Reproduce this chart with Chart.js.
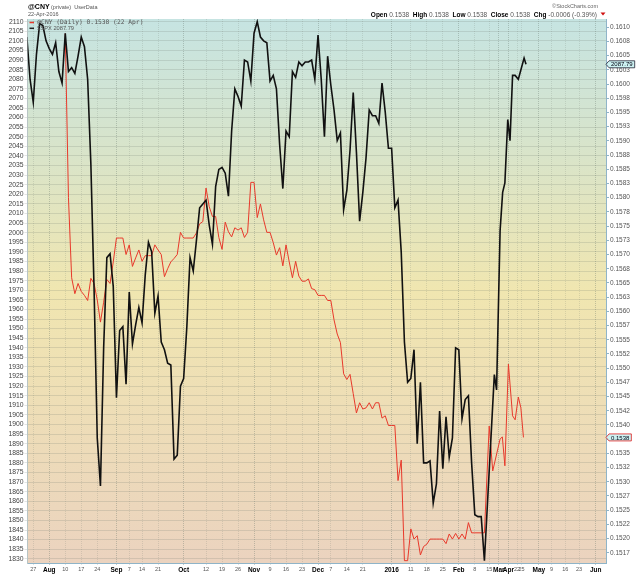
<!DOCTYPE html>
<html>
<head>
<meta charset="utf-8">
<script src="https://cdn.jsdelivr.net/npm/chart.js@4.4.1/dist/chart.umd.min.js"></script>
<style>
  html, body { margin: 0; padding: 0; background: #fff; overflow: hidden; }
  #wrap { position: relative; width: 640px; height: 576px; }
</style>
</head>
<body>
<div id="wrap"><canvas id="myChart"></canvas></div>
<script>
// $SPX closes, one per data slot starting at slot -1 (left edge) up to slot 142 (11 Feb)
var spxDaily = [
  2102, 2080, 2068, 2093, 2109, 2108, 2100, 2096, 2093, 2099,
  2084, 2078, 2104, 2084, 2086, 2083, 2092, 2102, 2097, 2080,
  2036, 1971, 1893, 1868, 1940, 1987, 1989, 1972, 1914, 1949,
  1951, 1921, 1969, 1942, 1952, 1961, 1953, 1978, 1995, 1990,
  1958, 1967, 1943, 1939, 1932, 1931, 1882, 1884, 1920, 1924,
  1951, 1987, 1980, 1996, 2013, 2015, 2017, 2004, 1994, 2024,
  2033, 2034, 2031, 2019, 2053, 2075, 2071, 2066, 2090, 2089,
  2079, 2104, 2110, 2102, 2100, 2099, 2079, 2082, 2075, 2046,
  2023, 2053, 2050, 2084, 2081, 2089, 2087, 2089, 2089, 2090,
  2080, 2103, 2080, 2050, 2092, 2077, 2064, 2048, 2052, 2012,
  2022, 2043, 2073, 2042, 2006, 2021, 2039, 2064, 2061, 2061,
  2057, 2078, 2063, 2044, 2044, 2013, 2017, 1990, 1943, 1922,
  1924, 1939, 1890, 1922, 1880, 1880, 1881, 1859, 1869, 1907,
  1877, 1904, 1883, 1893, 1940, 1939, 1903, 1913, 1915, 1880,
  1853, 1852, 1852, 1829
];
var spxFirstSlot = -1;
// squeezed part after mid Feb (slots)
var spxLateSlot = [145.1, 145.8, 146.9, 147.7, 148.4, 149.3, 150, 150.8, 151.6, 152.6, 154.4, 155];
var spxLate = [1926, 1918, 2001, 2021, 2026, 2059, 2048, 2082, 2082, 2080, 2091, 2087.79];

// @CNY, one per slot from slot 11 (10 Aug) to slot 142
var cnyDaily = [
  .16089, .15800, .15659, .15631, .15649, .15635, .15628, .15619, .15658, .15649,
  .15620, .15581, .15616, .15656, .15649, .15687, .15729, .15729, .15729, .15700,
  .15717, .15679, .15694, .15708, .15688, .15698, .15698, .15698, .15717, .15708,
  .15700, .15661, .15675, .15687, .15693, .15700, .15739, .15729, .15729, .15729,
  .15729, .15738, .15754, .15758, .15817, .15784, .15767, .15767, .15730, .15709,
  .15757, .15740, .15731, .15747, .15743, .15747, .15730, .15739, .15827, .15827,
  .15765, .15789, .15761, .15739, .15739, .15721, .15699, .15712, .15680, .15717,
  .15687, .15659, .15688, .15662, .15653, .15653, .15657, .15640, .15638, .15628,
  .15628, .15628, .15619, .15619, .15585, .15560, .15545, .15490, .15480, .15489,
  .15455, .15421, .15439, .15428, .15430, .15439, .15428, .15439, .15439, .15412,
  .15416, .15399, .15399, .15399, .15302, .15338, .15161, .15161, .15217, .15199,
  .15205, .15171, .15186, .15190, .15199, .15199, .15199, .15199, .15199, .15191,
  .15208, .15199, .15209, .15199, .15208, .15199, .15228, .15210, .15210, .15210,
  .15210, .15210
];
var cnyFirstSlot = 11;
var cnyLateSlot = [143.5, 144.6, 146.9, 147.6, 148.4, 149.5, 150.8, 151.6, 152.6, 153.4, 154.2];
var cnyLate = [.15398, .15319, .15375, .15379, .15328, .15507, .15416, .15409, .15449, .15430, .15378];

// x axis labels
var xTickPos = [1, 6, 11, 16, 21, 27, 31, 35, 40, 48, 55, 60, 65, 70, 75, 80, 85, 90, 94, 99, 104,
                113, 119, 124, 129, 134, 139, 143.5, 146.5, 149.5, 152.2, 153.6, 159, 163, 167.3, 171.6, 176.8];
var xTickText = ['27', 'Aug', '10', '17', '24', 'Sep', '7', '14', '21', 'Oct', '12', '19', '26', 'Nov', '9', '16', '23',
                 'Dec', '7', '14', '21', '2016', '11', '18', '25', 'Feb', '8', '15', 'Mar', 'Apr', '22', '25',
                 'May', '9', '16', '23', 'Jun'];
var monthNames = ['Aug', 'Sep', 'Oct', 'Nov', 'Dec', '2016', 'Feb', 'Mar', 'Apr', 'May', 'Jun'];

// y axis ticks
var spxTickLow = 1830, spxTickHigh = 2110, spxTickStep = 5;
var cnyTickLow = 0.15175, cnyTickHigh = 0.1610, cnyTickStep = 0.00025;

var spxPoints = spxDaily.map(function (v, i) { return { x: spxFirstSlot + i, y: v }; });
spxLate.forEach(function (v, i) { spxPoints.push({ x: spxLateSlot[i], y: v }); });
var cnyPoints = cnyDaily.map(function (v, i) { return { x: cnyFirstSlot + i, y: v }; });
cnyLate.forEach(function (v, i) { cnyPoints.push({ x: cnyLateSlot[i], y: v }); });

var spxTicks = [];
for (var t = spxTickLow; t <= spxTickHigh; t += spxTickStep) spxTicks.push(t);
var cnyTicks = [];
for (var k = 0; cnyTickLow + k * cnyTickStep <= cnyTickHigh + 1e-9; k++) cnyTicks.push(+(cnyTickLow + k * cnyTickStep).toFixed(5));

function isMonth(i) { return monthNames.indexOf(xTickText[i]) >= 0; }

var bgPlugin = {
  id: 'bg',
  beforeDraw: function (chart) {
    var c = chart.ctx, a = chart.chartArea;
    c.save();
    c.fillStyle = '#fff';
    c.fillRect(0, 0, chart.width, chart.height);
    var g = c.createLinearGradient(0, a.top, 0, a.bottom);
    g.addColorStop(0, '#c6e4e2');
    g.addColorStop(0.25, '#d9e4c9');
    g.addColorStop(0.5, '#f0e6b0');
    g.addColorStop(1, '#ebd3bf');
    c.fillStyle = g;
    c.fillRect(a.left, a.top, a.right - a.left, a.bottom - a.top);
    c.restore();
  }
};

function valueBox(c, x, y, text, border) {
  c.font = '6px "Liberation Sans"';
  var w = c.measureText(text).width + 4, h = 7;
  c.beginPath();
  c.moveTo(x, y);
  c.lineTo(x + 3, y - h / 2);
  c.lineTo(x + 3 + w, y - h / 2);
  c.lineTo(x + 3 + w, y + h / 2);
  c.lineTo(x + 3, y + h / 2);
  c.closePath();
  c.fillStyle = '#cdf2f2';
  c.fill();
  c.strokeStyle = border;
  c.lineWidth = 0.8;
  c.stroke();
  c.fillStyle = '#001';
  c.textBaseline = 'middle';
  c.textAlign = 'left';
  c.fillText(text, x + 5, y + 0.5);
}

var textPlugin = {
  id: 'texts',
  afterDraw: function (chart) {
    var c = chart.ctx, a = chart.chartArea;
    c.save();
    c.textBaseline = 'alphabetic';
    // header, left
    c.fillStyle = '#000';
    c.font = 'bold 7px "Liberation Sans"';
    c.fillText('@CNY', 28, 8.5);
    c.fillStyle = '#555';
    c.font = '5.5px "Liberation Sans"';
    c.fillText('(private)  UserData', 51, 8.5);
    c.fillText('22-Apr-2016', 28, 16.3);
    // header, right
    c.textAlign = 'right';
    c.fillStyle = '#666';
    c.font = '5.5px "Liberation Sans"';
    c.fillText('\u00a9StockCharts.com', 598, 8);
    var parts = [['Open ', true], ['0.1538  ', false], ['High ', true], ['0.1538  ', false],
                 ['Low ', true], ['0.1538  ', false], ['Close ', true], ['0.1538  ', false],
                 ['Chg ', true], ['-0.0006 (-0.39%)', false]];
    var total = 0;
    parts.forEach(function (p) {
      c.font = (p[1] ? 'bold ' : '') + '6.5px "Liberation Sans"';
      total += c.measureText(p[0]).width;
    });
    var x = 597 - total;
    c.textAlign = 'left';
    parts.forEach(function (p) {
      c.font = (p[1] ? 'bold ' : '') + '6.5px "Liberation Sans"';
      c.fillStyle = p[1] ? '#000' : '#555';
      c.fillText(p[0], x, 16.5);
      x += c.measureText(p[0]).width;
    });
    c.fillStyle = '#d01010';
    c.beginPath();
    c.moveTo(600.5, 12.5); c.lineTo(605.5, 12.5); c.lineTo(603, 15.5); c.closePath();
    c.fill();

    // legend inside the plot
    c.lineWidth = 1.5;
    c.strokeStyle = '#e8392b';
    c.beginPath(); c.moveTo(29.5, 22.5); c.lineTo(34, 22.5); c.stroke();
    c.strokeStyle = '#222';
    c.beginPath(); c.moveTo(29.5, 28.3); c.lineTo(34, 28.3); c.stroke();
    c.textBaseline = 'middle';
    c.fillStyle = '#555';
    c.font = '6.3px "DejaVu Sans Mono"';
    c.fillText('@CNY (Daily) 0.1538 (22 Apr)', 37.3, 22.8);
    c.font = '5.7px "Liberation Sans"';
    c.fillText('$SPX 2087.79', 37.3, 28.6);

    // last value boxes on the right axis
    var yL = chart.scales.yL, yR = chart.scales.yR;
    valueBox(c, a.right, yL.getPixelForValue(spxLate[spxLate.length - 1]), '2087.79', '#223');
    valueBox(c, a.right, yR.getPixelForValue(cnyLate[cnyLate.length - 1]), '0.1538', '#e02020');
    c.restore();
  }
};

var ctx = document.getElementById('myChart');

var myLineChart = new Chart(ctx, {
  type: 'line',
  data: {
    datasets: [
      {
        label: '$SPX',
        data: spxPoints,
        yAxisID: 'yL',
        borderColor: '#111',
        borderWidth: 1.6,
        pointRadius: 0,
        tension: 0,
        fill: false,
        order: 1
      },
      {
        label: '@CNY',
        data: cnyPoints,
        yAxisID: 'yR',
        borderColor: '#e8392b',
        borderWidth: 1,
        pointRadius: 0,
        tension: 0,
        fill: false,
        order: 2
      }
    ]
  },
  options: {
    responsive: true,
    maintainAspectRatio: false,
    animation: false,
    layout: { padding: { top: 19, left: 0, right: 0, bottom: 0 } },
    plugins: { legend: { display: false }, tooltip: { enabled: false } },
    scales: {
      x: {
        type: 'linear',
        min: -0.8,
        max: 180,
        afterBuildTicks: function (s) { s.ticks = xTickPos.map(function (v) { return { value: v }; }); },
        afterFit: function (s) { s.height = 13; },
        ticks: {
          autoSkip: false,
          maxRotation: 0,
          padding: 1,
          callback: function (v, i) { return xTickText[i]; },
          color: function (c) { return isMonth(c.index) ? '#000' : '#555'; },
          font: function (c) {
            return isMonth(c.index)
              ? { family: 'Liberation Sans', size: 6.5, weight: 'bold' }
              : { family: 'Liberation Sans', size: 5.5, weight: 'normal' };
          }
        },
        grid: {
          color: function (c) { return isMonth(c.index) ? 'rgba(95,110,100,0.33)' : 'rgba(110,120,110,0.2)'; },
          lineWidth: 1,
          tickLength: 2
        },
        border: { color: '#8fb4c8', dash: [1, 1] }
      },
      yL: {
        type: 'linear',
        position: 'left',
        min: 1827.8,
        max: 2111.4,
        afterBuildTicks: function (s) { s.ticks = spxTicks.map(function (v) { return { value: v }; }); },
        afterFit: function (s) { s.width = 27.5; },
        ticks: {
          autoSkip: false,
          padding: 1,
          color: '#444',
          font: { family: 'Liberation Sans', size: 6.8 },
          callback: function (v) { return String(v); }
        },
        grid: { color: 'rgba(110,120,110,0.2)', lineWidth: 1, tickLength: 3 },
        border: { color: '#b8c4c4' }
      },
      yR: {
        type: 'linear',
        position: 'right',
        min: 0.151569,
        max: 0.161146,
        afterBuildTicks: function (s) { s.ticks = cnyTicks.map(function (v) { return { value: v }; }); },
        afterFit: function (s) { s.width = 34; },
        ticks: {
          autoSkip: false,
          padding: 1,
          color: '#555',
          font: { family: 'Liberation Sans', size: 6.5 },
          callback: function (v) { return v.toFixed(4); }
        },
        grid: { drawOnChartArea: false, color: '#8fb4c8', tickLength: 3 },
        border: { color: '#8fb4c8' }
      }
    }
  },
  plugins: [bgPlugin, textPlugin]
});
</script>
</body>
</html>
